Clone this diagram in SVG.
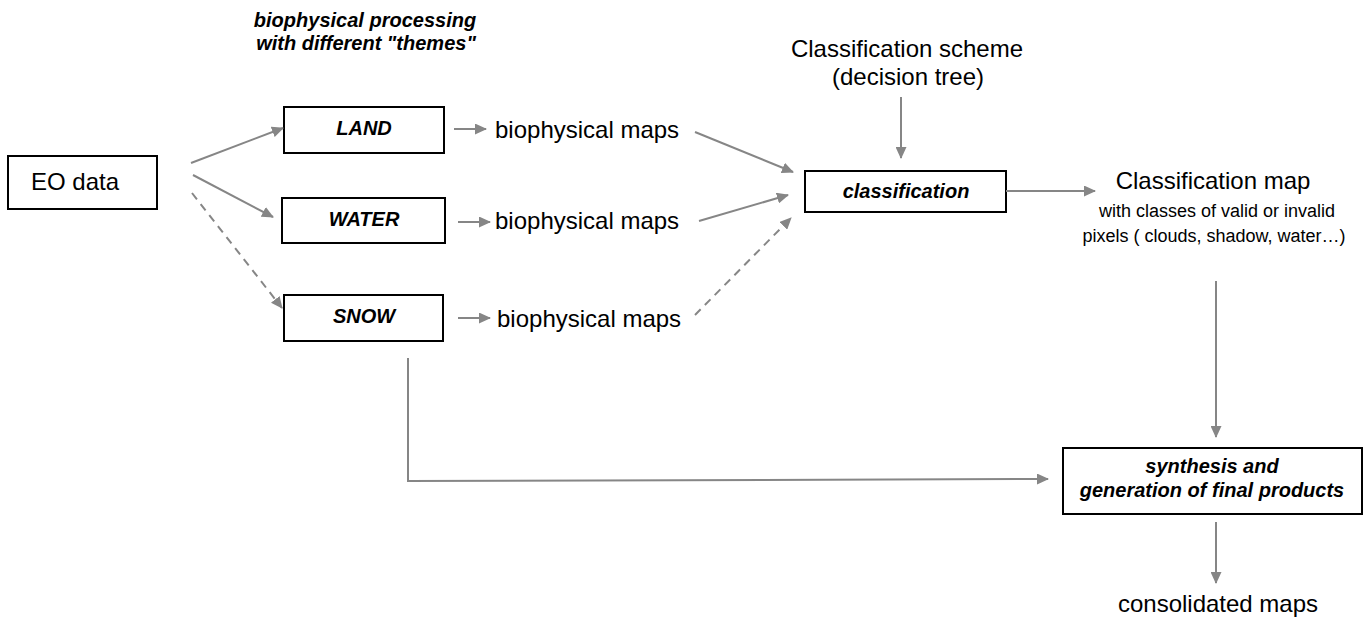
<svg xmlns="http://www.w3.org/2000/svg" width="1363" height="628" viewBox="0 0 1363 628">
<style>
.box{fill:#fff;stroke:#000;stroke-width:2}
.t{font-family:"Liberation Sans",Arial,sans-serif;fill:#000}
.bi{font-weight:bold;font-style:italic;font-size:20px}
.n24{font-size:24px}
.n18{font-size:18px}
.c{stroke:#868686;stroke-width:2;fill:none}
.d{stroke-dasharray:8 6}
</style>
<defs>
<marker id="ah" markerUnits="userSpaceOnUse" markerWidth="12" markerHeight="11" refX="11" refY="5.5" orient="auto">
<path d="M0,0 L12,5.5 L0,11 z" fill="#868686"/>
</marker>
</defs>
<g id="title">
<text class="t bi" x="365" y="27" text-anchor="middle">biophysical processing</text>
<text class="t bi" x="366" y="50" text-anchor="middle">with different "themes"</text>
</g>
<g id="eo">
<rect class="box" x="8" y="156" width="149" height="53"/>
<text class="t n24" x="31" y="190">EO data</text>
</g>
<g id="land">
<rect class="box" x="284" y="107" width="160" height="46"/>
<text class="t bi" x="364" y="135" text-anchor="middle">LAND</text>
</g>
<g id="water">
<rect class="box" x="282" y="198" width="163" height="45"/>
<text class="t bi" x="364" y="226" text-anchor="middle">WATER</text>
</g>
<g id="snow">
<rect class="box" x="284" y="295" width="159" height="46"/>
<text class="t bi" x="364" y="323" text-anchor="middle">SNOW</text>
</g>
<g id="maps-land"><text class="t n24" x="495" y="138">biophysical maps</text></g>
<g id="maps-water"><text class="t n24" x="495" y="229">biophysical maps</text></g>
<g id="maps-snow"><text class="t n24" x="497" y="327">biophysical maps</text></g>
<g id="scheme">
<text class="t n24" x="907" y="57" text-anchor="middle">Classification scheme</text>
<text class="t n24" x="908" y="85" text-anchor="middle">(decision tree)</text>
</g>
<g id="classification">
<rect class="box" x="805" y="171" width="201" height="41"/>
<text class="t bi" x="906" y="198" text-anchor="middle">classification</text>
</g>
<g id="classmap">
<text class="t n24" x="1213" y="189" text-anchor="middle">Classification map</text>
<text class="t n18" x="1217" y="217" text-anchor="middle">with classes of valid or invalid</text>
<text class="t n18" x="1214" y="242" text-anchor="middle">pixels ( clouds, shadow, water…)</text>
</g>
<g id="synthesis">
<rect class="box" x="1063" y="448" width="299" height="66"/>
<text class="t bi" x="1212" y="473" text-anchor="middle">synthesis and</text>
<text class="t bi" x="1212" y="497" text-anchor="middle">generation of final products</text>
</g>
<g id="consolidated">
<text class="t n24" x="1218" y="612" text-anchor="middle">consolidated maps</text>
</g>
<g id="connectors">
<line class="c" x1="191" y1="163" x2="283" y2="128" marker-end="url(#ah)"/>
<line class="c" x1="193" y1="175" x2="273" y2="217" marker-end="url(#ah)"/>
<line class="c d" x1="192" y1="193" x2="282" y2="308" marker-end="url(#ah)"/>
<line class="c" x1="454" y1="129" x2="486" y2="129" marker-end="url(#ah)"/>
<line class="c" x1="458" y1="222" x2="490" y2="222" marker-end="url(#ah)"/>
<line class="c" x1="458" y1="318" x2="490" y2="318" marker-end="url(#ah)"/>
<line class="c" x1="695" y1="132" x2="793" y2="172" marker-end="url(#ah)"/>
<line class="c" x1="699" y1="221" x2="788" y2="195" marker-end="url(#ah)"/>
<line class="c d" x1="695" y1="315" x2="791" y2="218" marker-end="url(#ah)"/>
<line class="c" x1="901" y1="97" x2="901" y2="158" marker-end="url(#ah)"/>
<line class="c" x1="1006" y1="191" x2="1095" y2="191" marker-end="url(#ah)"/>
<line class="c" x1="1216" y1="281" x2="1216" y2="437" marker-end="url(#ah)"/>
<polyline class="c" points="408,358 408,481 1048,479" marker-end="url(#ah)"/>
<line class="c" x1="1216" y1="522" x2="1216" y2="583" marker-end="url(#ah)"/>
</g>
</svg>
